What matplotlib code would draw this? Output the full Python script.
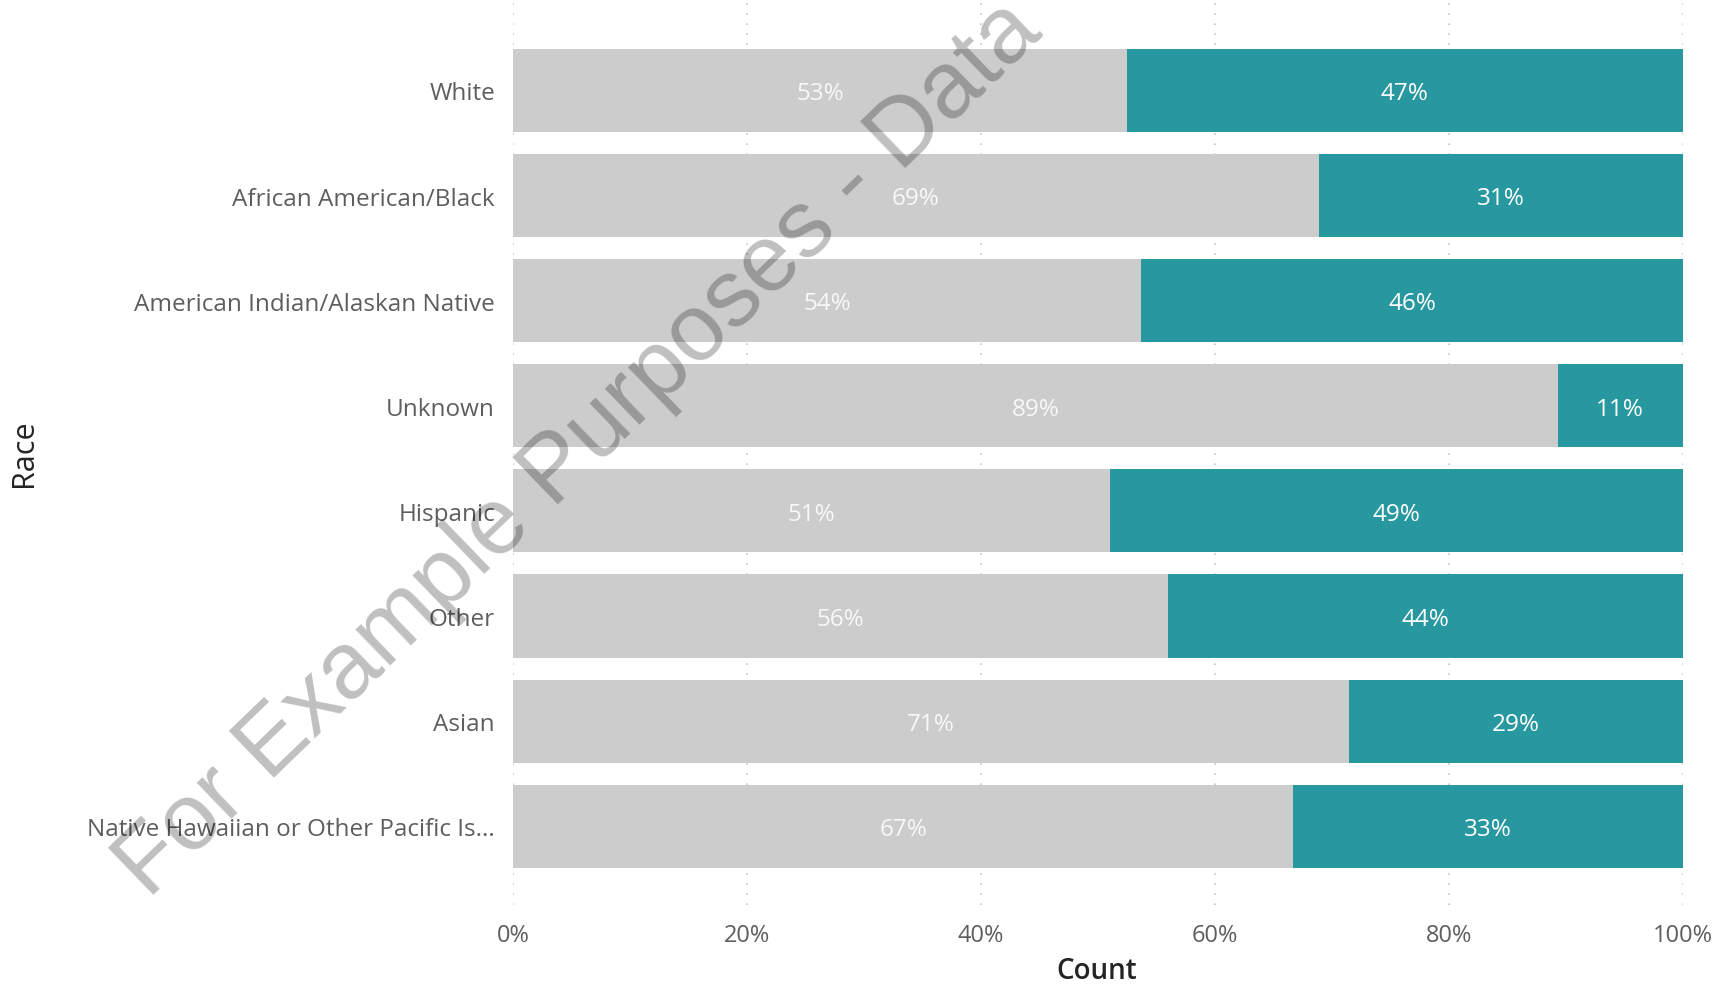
import matplotlib
matplotlib.use("Agg")
import matplotlib.pyplot as plt
import numpy as np

categories = ["White", "African American/Black", "American Indian/Alaskan Native",
              "Unknown", "Hispanic", "Other", "Asian",
              "Native Hawaiian or Other Pacific Is..."]
share_a = [52.5, 68.9, 53.7, 89.3, 51.0, 56.0, 71.5, 66.7]   # gray segment (%)
share_b = [47.5, 31.1, 46.3, 10.7, 49.0, 44.0, 28.5, 33.3]   # teal segment (%)
labels_a = ["53%", "69%", "54%", "89%", "51%", "56%", "71%", "67%"]
labels_b = ["47%", "31%", "46%", "11%", "49%", "44%", "29%", "33%"]
xticks = [0, 20, 40, 60, 80, 100]
xticklabels = ["0%", "20%", "40%", "60%", "80%", "100%"]

plt.rcParams['font.family'] = ['Open Sans', 'DejaVu Sans']

fig = plt.figure(figsize=(17.33, 9.87), dpi=100)
ax = fig.add_axes([0.296, 0.082, 0.675, 0.918])

y = np.arange(len(categories))
gray = "#CCCCCC"
teal = "#2898A0"
h = 0.79
ax.barh(y, share_a, height=h, color=gray, zorder=2)
ax.barh(y, share_b, left=share_a, height=h, color=teal, zorder=2)

for i in range(len(categories)):
    ax.annotate(labels_a[i], (share_a[i] / 2, y[i]), xytext=(0, -2),
                textcoords='offset points', ha='center', va='center',
                color='#F8F8F8', fontsize=17.5, zorder=3)
    ax.annotate(labels_b[i], (share_a[i] + share_b[i] / 2, y[i]), xytext=(0, -2),
                textcoords='offset points', ha='center', va='center',
                color='white', fontsize=17.5, zorder=3)

ax.set_ylim(len(categories) - 1 + 0.75, -0.87)
ax.set_xlim(0, 100)
ax.set_yticks(y)
ax.set_yticklabels(categories, fontsize=17.5, color='#605E5C')
ax.set_xticks(xticks)
ax.set_xticklabels(xticklabels, fontsize=17, color='#605E5C')
ax.tick_params(axis='both', length=0)
ax.tick_params(axis='y', pad=13)
ax.tick_params(axis='x', pad=13)
ax.grid(axis='x', linestyle=(0, (1, 5)), color='#C8C8C8', linewidth=1.2, zorder=1)
for s in ax.spines.values():
    s.set_visible(False)

ax.set_xlabel("Count", fontsize=20, color='#252423', fontweight='semibold')
ax.xaxis.set_label_coords(0.499, -0.056)
ax.set_ylabel("Race", fontsize=22, color='#252423')
ax.yaxis.set_label_coords(-0.405, 0.5)

fig.text(148 / 1733, 1 - 900 / 987, "For Example Purposes - Data",
         rotation=44, rotation_mode='anchor', ha='left', va='baseline',
         fontsize=68, color='black', alpha=0.25, zorder=10,
         family=['Liberation Sans', 'DejaVu Sans'])

fig.savefig("out.png", dpi=100)
